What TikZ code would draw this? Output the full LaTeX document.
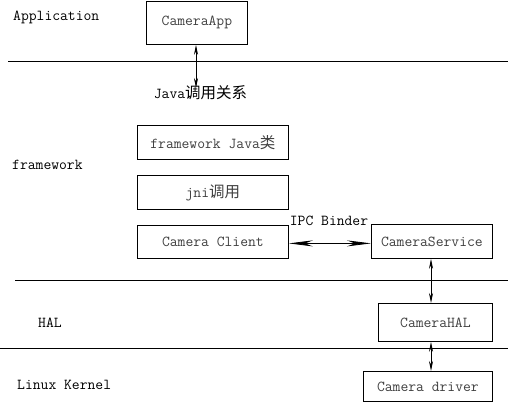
\documentclass[tikz,border=0pt]{standalone}
\usepackage{fontspec}
\newfontfamily\cjkfont{Noto Sans CJK SC}
\newcommand\zhtxt[1]{{\cjkfont\fontsize{15.5}{18}\selectfont #1}}
\usetikzlibrary{arrows.meta}
\begin{document}
\begin{tikzpicture}[x=1pt,y=-1pt,
  font=\ttfamily\fontsize{15.2}{18}\selectfont,
  box/.style={draw, line width=0.8pt, inner sep=0pt, anchor=north west, text=black!75},
  lbl/.style={anchor=west, inner sep=0pt, text=black},
  sep/.style={line width=0.8pt},
  varrow/.style={line width=0.8pt, {Stealth[length=10pt,width=4pt]}-{Stealth[length=10pt,width=4pt]}},
  harrow/.style={line width=0.8pt, {Stealth[length=24pt,width=6pt]}-{Stealth[length=24pt,width=6pt]}}]
\useasboundingbox (0,0) rectangle (508,403);
\fill[white] (0,0) rectangle (508,403);

% separator lines
\coordinate (l1a) at (8,61);   \coordinate (l1b) at (508,61);
\coordinate (l2a) at (15,280); \coordinate (l2b) at (508,280);
\coordinate (l3a) at (0,348);  \coordinate (l3b) at (508,348);
\draw[sep] (l1a) -- (l1b);
\draw[sep] (l2a) -- (l2b);
\draw[sep] (l3a) -- (l3b);

% layer labels
\node[lbl] (lapp) at (13,17) {Application};
\node[lbl] (lfw) at (12,165) {framework};
\node[lbl] (lhal) at (38,323) {HAL};
\node[lbl] (lkern) at (17,385) {Linux Kernel};

% boxes
\node[box, minimum width=101pt, minimum height=43pt] (app) at (146,1) {CameraApp};
\node[box, minimum width=151pt, minimum height=34pt] (fjava) at (137,125) {framework Java\zhtxt{类}};
\node[box, minimum width=151pt, minimum height=34pt] (jni) at (137,175) {jni\zhtxt{调用}};
\node[box, minimum width=151pt, minimum height=33pt] (client) at (137,225) {Camera Client};
\node[box, minimum width=121pt, minimum height=34pt] (service) at (371,224) {CameraService};
\node[box, minimum width=114pt, minimum height=38pt] (hal) at (378,303) {CameraHAL};
\node[box, minimum width=129pt, minimum height=30pt] (driver) at (363,371) {Camera driver};

% labels on connectors
\node[inner sep=0pt] (javalbl) at (200.5,93) {Java\zhtxt{调用关系}};
\node[inner sep=0pt] (ipc) at (329,221) {IPC Binder};

% connectors
\coordinate (javaend) at (196,88);
\draw[varrow] (app.south -| javaend) -- (javaend);
\draw[harrow] ([yshift=-1.5pt]client.east) -- ([yshift=-1.5pt]client.east -| service.west);
\coordinate (vx) at (431,0);
\draw[varrow] (service.south -| vx) -- (hal.north -| vx);
\draw[varrow] (hal.south -| vx) -- (driver.north -| vx);
\end{tikzpicture}
\end{document}
